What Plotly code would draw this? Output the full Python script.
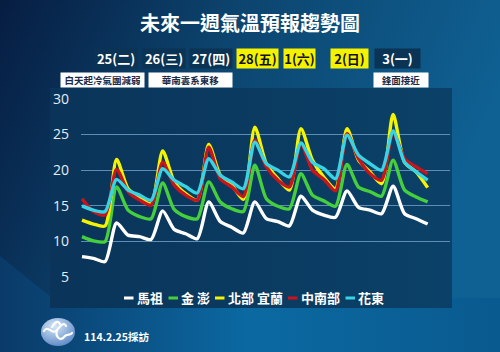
import base64
import plotly.graph_objects as go

# ---------------- data ----------------
steps = list(range(31))  # 6-hourly steps, 25 Feb -> 3 Mar
matsu = [7.9, 7.65, 7.2, 12.6, 10.9, 10.7, 10.3, 14.3, 11.7, 11.1, 10.4, 15.55, 12.8, 12.0, 11.2,
         15.55, 13.2, 12.8, 12.2, 16.35, 14.4, 13.7, 13.4, 17.1, 14.8, 14.4, 13.9, 17.75, 13.9, 13.2, 12.45]
kinmen_penghu = [10.7, 10.1, 10.0, 17.65, 14.4, 13.5, 13.2, 18.2, 14.5, 13.5, 13.2, 18.35, 15.55, 14.6, 14.2,
                 20.7, 16.0, 14.95, 14.6, 19.5, 16.5, 15.7, 14.95, 20.8, 17.6, 17.0, 16.35, 21.4, 17.2, 16.25, 15.55]
north_yilan = [13.0, 12.45, 12.2, 21.5, 17.4, 16.2, 15.3, 22.7, 18.4, 16.7, 15.8, 23.6, 19.3, 17.9, 15.9,
               26.0, 20.9, 18.8, 17.2, 25.8, 21.4, 19.0, 17.4, 25.8, 21.4, 19.75, 18.1, 27.8, 21.1, 19.75, 17.55]
central_south = [16.0, 14.2, 13.7, 20.1, 17.0, 15.8, 15.1, 21.1, 17.9, 16.5, 15.8, 23.2, 18.8, 17.65, 16.3,
                 24.2, 20.45, 18.6, 17.65, 23.7, 20.0, 18.7, 17.1, 25.1, 21.6, 19.5, 18.6, 25.3, 21.6, 20.45, 19.5]
hualien_taitung = [15.0, 14.4, 14.2, 18.7, 17.2, 16.5, 15.8, 20.2, 18.6, 17.7, 16.8, 21.6, 19.3, 18.35, 17.4,
                   23.9, 20.9, 20.0, 19.05, 23.8, 21.1, 20.2, 18.8, 24.9, 22.1, 20.9, 20.0, 25.5, 21.1, 19.75, 18.6]

series_names = ["馬祖", "金 澎", "北部 宜蘭", "中南部", "花東"]
series_values = [matsu, kinmen_penghu, north_yilan, central_south, hualien_taitung]
series_colors = ["#ffffff", "#46cf3c", "#f4f400", "#c8141c", "#36d4e4"]

date_labels = ["25(二)", "26(三)", "27(四)", "28(五)", "1(六)", "2(日)", "3(一)"]
date_highlight = [False, False, False, True, True, True, False]
notes = ["白天起冷氣團減弱", "華南雲系東移", "鋒面接近"]
y_ticks = [5, 10, 15, 20, 25, 30]

# ---------------- geometry helpers ----------------
W, H = 500, 352
L, R, T, B = 81, 50, 98, 74
PW, PH = W - L - R, H - T - B


def px(x):
    return (x - L) / PW


def py(y):
    return (H - B - y) / PH


FONT = "Noto Sans CJK TC"

# ---------------- background (decorative) ----------------
svg = f'''<svg xmlns="http://www.w3.org/2000/svg" width="500" height="352" viewBox="0 0 500 352" preserveAspectRatio="none">
<defs>
<linearGradient id="g1" x1="0" y1="0" x2="1" y2="0.3">
<stop offset="0" stop-color="#071d42"/>
<stop offset="0.45" stop-color="#0c456f"/>
<stop offset="1" stop-color="#0f6194"/>
</linearGradient>
<linearGradient id="g2" x1="0" y1="0" x2="1" y2="0">
<stop offset="0" stop-color="#0a3a68"/>
<stop offset="0.5" stop-color="#0b69a2"/>
<stop offset="1" stop-color="#095a8e"/>
</linearGradient>
<linearGradient id="gp" x1="0" y1="0" x2="1" y2="0">
<stop offset="0" stop-color="#0a3459"/>
<stop offset="1" stop-color="#0b4168"/>
</linearGradient>
<radialGradient id="lg" cx="0.4" cy="0.3" r="0.75">
<stop offset="0" stop-color="#d6e6f7"/>
<stop offset="1" stop-color="#5b88c4"/>
</radialGradient>
</defs>
<rect width="500" height="352" fill="url(#g1)"/>
<polygon points="0,256 52,298 500,298 500,352 0,352" fill="url(#g2)"/>
<rect x="50" y="88" width="402" height="220" fill="url(#gp)"/>
<ellipse cx="58" cy="332" rx="17" ry="14" fill="url(#lg)"/>
<path d="M44,331 C48,324 52,336 57,330 C61,325 64,322 66,326 M57,330 C55,336 60,342 64,337 C67,333 70,336 72,333 M52,327 C55,322 58,320 60,324" stroke="#ffffff" stroke-width="2.2" fill="none" stroke-linecap="round"/>
</svg>'''
bg_src = "data:image/svg+xml;base64," + base64.b64encode(svg.encode("utf-8")).decode()

fig = go.Figure()

for name, vals, col in zip(series_names, series_values, series_colors):
    fig.add_trace(go.Scatter(
        x=steps, y=vals, mode="lines", name=name,
        line=dict(color=col, width=3.4, shape="spline", smoothing=0.7),
        showlegend=False, hoverinfo="skip"))

annotations = []
shapes = []

# title
annotations.append(dict(text="<b>未來一週氣溫預報趨勢圖</b>", x=px(250), y=py(23), xref="paper", yref="paper",
                        showarrow=False, font=dict(family=FONT, size=20, color="#ffffff"),
                        xanchor="center", yanchor="middle"))

# date boxes
date_boxes = [(116, 42), (164, 42), (211, 42), (257.5, 41), (299.5, 31), (349.5, 37), (397.5, 45)]
for lab, hl, (cx, w) in zip(date_labels, date_highlight, date_boxes):
    annotations.append(dict(text=f"<b>{lab}</b>", x=px(cx), y=py(58.5), xref="paper", yref="paper",
                            showarrow=False, width=w, height=19, borderpad=0,
                            bgcolor="#f5f200" if hl else "#0b3354",
                            font=dict(family=FONT, size=13, color="#111111" if hl else "#ffffff"),
                            xanchor="center", yanchor="middle"))

# note boxes
note_boxes = [(102.5, 83), (190.5, 83), (401, 54)]
for txt, (cx, w) in zip(notes, note_boxes):
    annotations.append(dict(text=f"<b>{txt}</b>", x=px(cx), y=py(80), xref="paper", yref="paper",
                            showarrow=False, width=w, height=14, borderpad=0, bgcolor="#ffffff",
                            font=dict(family=FONT, size=9.5, color="#1a2a48"),
                            xanchor="center", yanchor="middle"))

# legend (custom)
legend_pos = [124, 168.5, 215, 288, 345.5]
for name, col, x0 in zip(series_names, series_colors, legend_pos):
    shapes.append(dict(type="line", xref="paper", yref="paper", x0=px(x0), x1=px(x0 + 9.5),
                       y0=py(298), y1=py(298), line=dict(color=col, width=3)))
    annotations.append(dict(text=f"<b>{name}</b>", x=px(x0 + 10.5), y=py(297), xref="paper", yref="paper",
                            showarrow=False, font=dict(family=FONT, size=13, color="#ffffff"),
                            xanchor="left", yanchor="middle"))

# footer
annotations.append(dict(text="<b>114.2.25採訪</b>", x=px(82), y=py(336), xref="paper", yref="paper",
                        showarrow=False, font=dict(family=FONT, size=10.5, color="#ffffff"),
                        xanchor="left", yanchor="middle"))

fig.update_layout(
    width=W, height=H,
    margin=dict(l=L, r=R, t=T, b=B, pad=0),
    paper_bgcolor="#0b3a5e", plot_bgcolor="rgba(0,0,0,0)",
    images=[dict(source=bg_src, xref="paper", yref="paper", x=-L / PW, y=1 + T / PH,
                 sizex=W / PW, sizey=H / PH, sizing="stretch", xanchor="left", yanchor="top",
                 layer="below", opacity=1)],
    annotations=annotations, shapes=shapes,
    xaxis=dict(range=[-0.087, 31.94], showgrid=False, zeroline=False, showticklabels=False,
               showline=False, fixedrange=True),
    yaxis=dict(range=[4.9, 30.1], tickvals=y_ticks, showgrid=True, gridcolor="#5d8db4", gridwidth=1,
               zeroline=False, showline=False, ticks="", ticklabelstandoff=11,
               tickfont=dict(family="Open Sans", size=14, color="#e4ecf4")),
    showlegend=False,
)

fig.write_html("out.html")
